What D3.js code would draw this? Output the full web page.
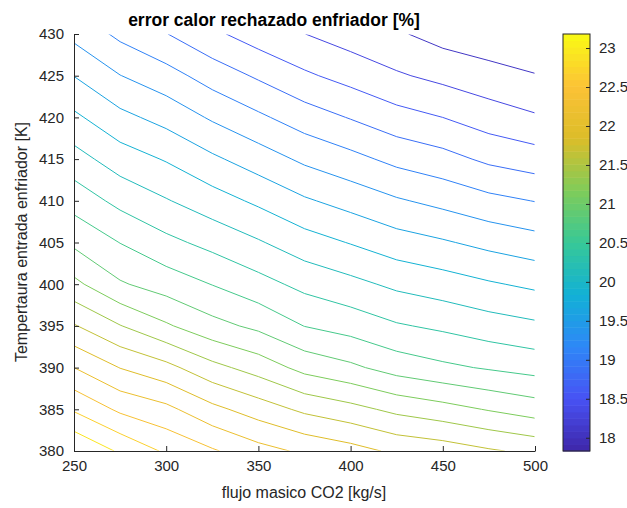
<!doctype html>
<html lang="en">
<head>
<meta charset="utf-8">
<title>error calor rechazado enfriador</title>
<style>
  body { margin: 0; background: #fff; }
  text { font-family: "Liberation Sans", Arial, sans-serif; }
</style>
</head>
<body>
<div id="chart"></div>
<script src="https://cdn.jsdelivr.net/npm/d3@7"></script>
<script>
// mass flow (columns) and cooler inlet temperature (rows) of the grid
var flujo = [250, 275, 300, 325, 350, 375, 400, 425, 450, 475, 500];
var temperatura = [380, 385, 390, 395, 400, 405, 410, 415, 420, 425, 430];

// heat rejection error [%], one array per temperature row
var error380 = [23.180, 22.887, 22.630, 22.446, 22.255, 22.115, 22.003, 21.855, 21.789, 21.682, 21.593];
var error385 = [22.640, 22.367, 22.227, 21.975, 21.784, 21.598, 21.478, 21.333, 21.236, 21.124, 21.020];
var error390 = [22.161, 21.899, 21.728, 21.473, 21.290, 21.060, 20.938, 20.780, 20.683, 20.607, 20.538];
var error395 = [21.672, 21.407, 21.175, 20.969, 20.829, 20.627, 20.530, 20.403, 20.329, 20.240, 20.171];
var error400 = [21.206, 20.915, 20.773, 20.625, 20.469, 20.306, 20.194, 20.069, 19.988, 19.896, 19.817];
var error405 = [20.836, 20.627, 20.444, 20.301, 20.148, 19.978, 19.855, 19.725, 19.641, 19.542, 19.458];
var error410 = [20.530, 20.306, 20.141, 19.980, 19.820, 19.646, 19.519, 19.387, 19.287, 19.175, 19.096];
var error415 = [20.225, 19.995, 19.848, 19.659, 19.486, 19.310, 19.180, 19.035, 18.938, 18.798, 18.714];
var error420 = [19.919, 19.682, 19.527, 19.325, 19.150, 18.974, 18.834, 18.689, 18.594, 18.464, 18.368];
var error425 = [19.608, 19.364, 19.203, 18.992, 18.813, 18.635, 18.503, 18.370, 18.271, 18.182, 18.100];
var error430 = [19.290, 19.045, 18.857, 18.648, 18.469, 18.342, 18.220, 18.118, 17.988, 17.914, 17.830];
var filas = [error380, error385, error390, error395, error400, error405,
             error410, error415, error420, error425, error430];

var xTicks = [250, 300, 350, 400, 450, 500];
var yTicks = [380, 385, 390, 395, 400, 405, 410, 415, 420, 425, 430];
var cbTicks = [18, 18.5, 19, 19.5, 20, 20.5, 21, 21.5, 22, 22.5, 23];
var nLineas = 20;

// parula
var parula = ["#3e26a8", "#4852f4", "#2e87f7", "#12b1d6", "#37c897",
              "#80cc59", "#dcbd29", "#fcc236", "#f9fb14"];

var W = 627, H = 508;
var plot = {left: 74, right: 535, top: 34, bottom: 451};
var cb = {left: 563, right: 590};
var gris = "#262626";

var svg = d3.select("#chart").append("svg")
  .attr("width", W)
  .attr("height", H);

var x = d3.scaleLinear().domain([250, 500]).range([plot.left, plot.right]);
var y = d3.scaleLinear().domain([380, 430]).range([plot.bottom, plot.top]);

var valores = [].concat.apply([], filas);
var zmin = d3.min(valores), zmax = d3.max(valores);
var niveles = d3.range(1, nLineas + 1).map(function(k) {
  return zmin + k * (zmax - zmin) / (nLineas + 1);
});
var color = d3.scaleLinear()
  .domain(parula.map(function(d, i) { return zmin + i * (zmax - zmin) / (parula.length - 1); }))
  .range(parula);

// contour grid -> data coordinates (grid values sit at cell centres)
var nx = flujo.length, ny = temperatura.length;
var gx = d3.scaleLinear().domain([0.5, nx - 0.5]).range([flujo[0], flujo[nx - 1]]);
var gy = d3.scaleLinear().domain([0.5, ny - 0.5]).range([temperatura[0], temperatura[ny - 1]]);
var proyeccion = d3.geoTransform({
  point: function(px, py) {
    this.stream.point(x(gx(px)), y(gy(py)));
  }
});
var path = d3.geoPath(proyeccion);

var contornos = d3.contours().size([nx, ny]).thresholds(niveles)(valores);

svg.append("clipPath").attr("id", "recorte")
  .append("rect")
  .attr("x", x(flujo[0]) + 0.5)
  .attr("y", y(temperatura[ny - 1]) + 0.5)
  .attr("width", x(flujo[nx - 1]) - x(flujo[0]) - 1)
  .attr("height", y(temperatura[0]) - y(temperatura[ny - 1]) - 1);

svg.append("g")
  .attr("clip-path", "url(#recorte)")
  .selectAll("path")
  .data(contornos)
  .enter().append("path")
  .attr("d", path)
  .attr("fill", "none")
  .attr("stroke", function(d) { return color(d.value); })
  .attr("stroke-width", 1);

// axes, ticks pointing inwards
var xAxis = d3.axisBottom(x).tickValues(xTicks).tickSizeInner(-5).tickSizeOuter(0).tickPadding(9);
var yAxis = d3.axisLeft(y).tickValues(yTicks).tickSizeInner(-5).tickSizeOuter(0).tickPadding(10);

svg.append("g")
  .attr("transform", "translate(0," + plot.bottom + ")")
  .call(xAxis);
svg.append("g")
  .attr("transform", "translate(" + plot.left + ",0)")
  .call(yAxis);

svg.selectAll(".tick text").attr("font-size", 15).attr("fill", gris).attr("font-family", null);
svg.selectAll(".domain, .tick line").attr("stroke", gris);

svg.append("text")
  .attr("x", 304)
  .attr("y", 498)
  .attr("text-anchor", "middle")
  .attr("font-size", 16)
  .attr("fill", gris)
  .text("flujo masico CO2 [kg/s]");

svg.append("text")
  .attr("transform", "translate(27,242) rotate(-90)")
  .attr("text-anchor", "middle")
  .attr("font-size", 16)
  .attr("fill", gris)
  .text("Tempertaura entrada enfriador [K]");

svg.append("text")
  .attr("x", 274)
  .attr("y", 26)
  .attr("text-anchor", "middle")
  .attr("font-size", 17.5)
  .attr("font-weight", "bold")
  .attr("fill", "#000")
  .text("error calor rechazado enfriador [%]");

// colorbar
var cbScale = d3.scaleLinear().domain([zmin, zmax]).range([plot.bottom, plot.top]);
var bandas = d3.range(64).map(function(i) {
  return {z0: zmin + i * (zmax - zmin) / 64, z1: zmin + (i + 1) * (zmax - zmin) / 64};
});
svg.append("g").selectAll("rect")
  .data(bandas)
  .enter().append("rect")
  .attr("x", cb.left)
  .attr("y", function(d) { return cbScale(d.z1); })
  .attr("width", cb.right - cb.left)
  .attr("height", function(d) { return cbScale(d.z0) - cbScale(d.z1) + 0.5; })
  .attr("fill", function(d) { return color((d.z0 + d.z1) / 2); });

svg.append("rect")
  .attr("x", cb.left)
  .attr("y", plot.top)
  .attr("width", cb.right - cb.left)
  .attr("height", plot.bottom - plot.top)
  .attr("fill", "none")
  .attr("stroke", gris)
  .attr("stroke-width", 1);

var cbAxis = d3.axisRight(cbScale).tickValues(cbTicks).tickFormat(d3.format("")).tickSizeInner(-4).tickSizeOuter(0).tickPadding(9);
var cbG = svg.append("g")
  .attr("transform", "translate(" + cb.right + ",0)")
  .call(cbAxis);
cbG.select(".domain").remove();
cbG.selectAll(".tick line").attr("stroke", gris);
cbG.selectAll(".tick text").attr("font-size", 15).attr("fill", gris).attr("font-family", null);
</script>
</body>
</html>
